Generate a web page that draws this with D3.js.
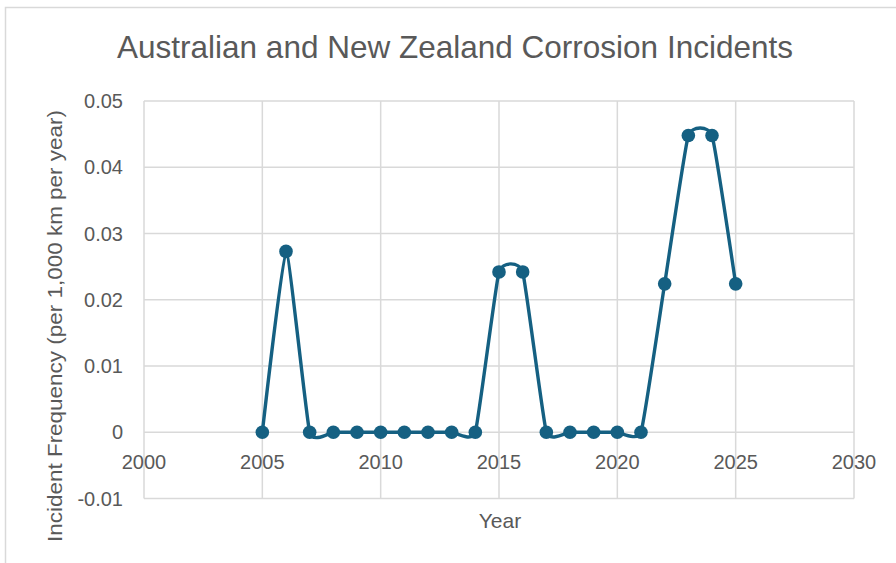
<!DOCTYPE html>
<html>
<head>
<meta charset="utf-8">
<script src="https://cdn.jsdelivr.net/npm/d3@7"></script>
<style>
  html, body { margin: 0; padding: 0; background: #ffffff; }
  svg { display: block; }
  text { font-family: "Liberation Sans", Arial, sans-serif; fill: #595959; }
</style>
</head>
<body>
<svg id="chart" width="896" height="563"></svg>
<script>
// Incident frequency per year (per 1,000 km per year)
const years = [2005, 2006, 2007, 2008, 2009, 2010, 2011, 2012, 2013, 2014, 2015,
               2016, 2017, 2018, 2019, 2020, 2021, 2022, 2023, 2024, 2025];
const frequency = [0, 0.0273, 0, 0, 0, 0, 0, 0, 0, 0, 0.0242,
                   0.0242, 0, 0, 0, 0, 0, 0.0224, 0.0448, 0.0448, 0.0224];

const xTicks = [2000, 2005, 2010, 2015, 2020, 2025, 2030];
const yTicks = [-0.01, 0, 0.01, 0.02, 0.03, 0.04, 0.05];
const yTickLabels = ["-0.01", "0", "0.01", "0.02", "0.03", "0.04", "0.05"];

const titleText = "Australian and New Zealand Corrosion Incidents";
const xTitle = "Year";
const yTitle = "Incident Frequency (per 1,000 km per year)";

const lineColor = "#156082";
const gridColor = "#d9d9d9";

const svg = d3.select("#chart");

// outer chart frame
svg.append("path")
  .attr("d", "M5.5,563 L5.5,7.5 L896,7.5")
  .attr("fill", "none")
  .attr("stroke", gridColor)
  .attr("stroke-width", 1.5);

const plot = { left: 144, right: 854, top: 101, bottom: 498.5 };

const x = d3.scaleLinear().domain([2000, 2030]).range([plot.left, plot.right]);
const y = d3.scaleLinear().domain([-0.01, 0.05]).range([plot.bottom, plot.top]);

// gridlines
const grid = svg.append("g");
grid.selectAll("line.v").data(xTicks).join("line")
  .attr("x1", d => x(d)).attr("x2", d => x(d))
  .attr("y1", plot.top).attr("y2", plot.bottom)
  .attr("stroke", gridColor).attr("stroke-width", 1.5);
grid.selectAll("line.h").data(yTicks).join("line")
  .attr("y1", d => y(d)).attr("y2", d => y(d))
  .attr("x1", plot.left).attr("x2", plot.right)
  .attr("stroke", gridColor).attr("stroke-width", 1.5);

// y tick labels
svg.append("g").selectAll("text").data(yTicks).join("text")
  .attr("x", 123)
  .attr("y", d => y(d))
  .attr("dy", "0.35em")
  .attr("text-anchor", "end")
  .attr("font-size", 20)
  .text((d, i) => yTickLabels[i]);

// x tick labels, placed beneath the zero line
svg.append("g").selectAll("text").data(xTicks).join("text")
  .attr("x", d => x(d))
  .attr("y", y(0) + 37)
  .attr("text-anchor", "middle")
  .attr("font-size", 20)
  .text(d => String(d));

// smoothed series line
const line = d3.line()
  .x((d, i) => x(years[i]))
  .y(d => y(d))
  .curve(d3.curveCardinal.tension(0.6));

svg.append("path")
  .datum(frequency)
  .attr("d", line)
  .attr("fill", "none")
  .attr("stroke", lineColor)
  .attr("stroke-width", 3.4)
  .attr("stroke-linejoin", "round");

svg.append("g").selectAll("circle").data(frequency).join("circle")
  .attr("cx", (d, i) => x(years[i]))
  .attr("cy", d => y(d))
  .attr("r", 6.8)
  .attr("fill", lineColor);

// chart title
svg.append("text")
  .attr("x", 455)
  .attr("y", 58)
  .attr("text-anchor", "middle")
  .attr("font-size", 32)
  .attr("textLength", 676)
  .attr("lengthAdjust", "spacingAndGlyphs")
  .text(titleText);

// axis titles
svg.append("text")
  .attr("x", 500)
  .attr("y", 528)
  .attr("text-anchor", "middle")
  .attr("font-size", 21)
  .text(xTitle);

svg.append("text")
  .attr("transform", "translate(62,326) rotate(-90)")
  .attr("text-anchor", "middle")
  .attr("font-size", 21)
  .attr("textLength", 432)
  .attr("lengthAdjust", "spacingAndGlyphs")
  .text(yTitle);
</script>
</body>
</html>
